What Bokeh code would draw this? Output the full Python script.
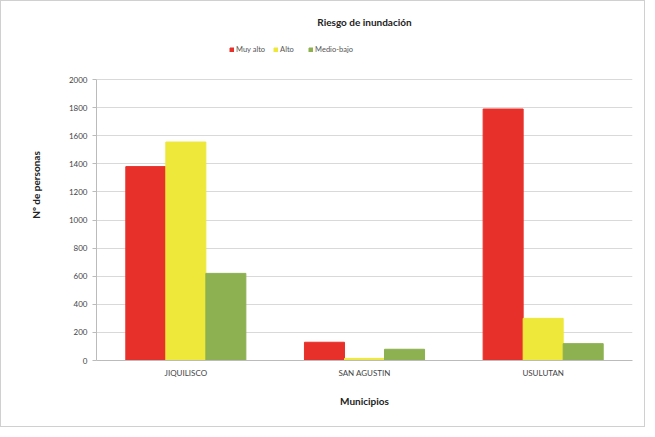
from bokeh.plotting import figure
from bokeh.models import (ColumnDataSource, FactorRange, Range1d, FixedTicker, Legend,
                          LegendItem, Label)
from bokeh.transform import dodge
from bokeh.embed import file_html
from bokeh.resources import INLINE

municipios = ["JIQUILISCO", "SAN AGUSTIN", "USULUTAN"]
muy_alto = [1380, 130, 1790]
alto = [1555, 15, 300]
medio_bajo = [620, 80, 120]
y_ticks = [0, 200, 400, 600, 800, 1000, 1200, 1400, 1600, 1800, 2000]

src = ColumnDataSource(dict(m=municipios, a=muy_alto, b=alto, c=medio_bajo))

FONT = "Lato"
FRAME_H = 351          # px, frame height (includes headroom for title and legend)
AXIS_H = 281           # px used by the 0..2000 value axis
y_top = 2000 * FRAME_H / AXIS_H

p = figure(x_range=FactorRange(*municipios), y_range=Range1d(0, y_top),
           width=645, height=427, output_backend="svg", toolbar_location=None,
           min_border_left=95, min_border_right=14, min_border_top=8, min_border_bottom=68,
           styles={"border": "1px solid #d0d0d0"})
p.x_range.range_padding = 0
w = 0.224
r1 = p.vbar(x=dodge("m", -w, range=p.x_range), top="a", width=w, source=src, color="#E8302A")
r2 = p.vbar(x=dodge("m", 0, range=p.x_range), top="b", width=w, source=src, color="#EDE83A")
r3 = p.vbar(x=dodge("m", w, range=p.x_range), top="c", width=w, source=src, color="#8DB050")

title = Label(text="Riesgo de inundación", x=268, y=FRAME_H - 12, x_units="screen",
              y_units="screen", text_align="center", text_baseline="middle",
              text_font=FONT, text_font_size="10px", text_font_style="bold",
              text_color="#222222")
p.add_layout(title)

legend = Legend(items=[LegendItem(label="Muy alto", renderers=[r1]),
                       LegendItem(label="Alto", renderers=[r2]),
                       LegendItem(label="Medio-bajo", renderers=[r3])],
                orientation="horizontal", location=(133, FRAME_H - 45),
                label_text_font=FONT, label_text_font_size="7.5px", label_text_color="#555555",
                glyph_width=5, glyph_height=5, label_standoff=2, spacing=8,
                label_height=8, border_line_color=None, background_fill_alpha=0,
                margin=0, padding=0)
p.add_layout(legend)

p.yaxis.ticker = FixedTicker(ticks=y_ticks)
p.yaxis.bounds = (0, 2000)
p.yaxis.axis_label = "Nº de personas"
p.xaxis.axis_label = "Municipios"
for ax in (p.xaxis, p.yaxis):
    ax.axis_label_text_font = FONT
    ax.axis_label_text_font_size = "10px"
    ax.axis_label_text_font_style = "bold"
    ax.axis_label_text_color = "#222222"
    ax.major_label_text_font = FONT
    ax.major_label_text_font_size = "8px"
    ax.major_label_text_color = "#444444"
    ax.axis_line_color = "#bbbbbb"
    ax.major_tick_line_color = "#bbbbbb"
    ax.minor_tick_line_color = None
    ax.major_tick_in = 0
    ax.major_tick_out = 4
p.yaxis.axis_label_standoff = 24
p.xaxis.axis_label_standoff = 14
p.xaxis.major_tick_line_color = None
p.xaxis.major_label_standoff = 3
p.xgrid.grid_line_color = None
p.ygrid.grid_line_color = "#d9d9d9"
p.ygrid.bounds = (0, 2000)
p.outline_line_color = None

open("out.html", "w").write(file_html(p, INLINE))
